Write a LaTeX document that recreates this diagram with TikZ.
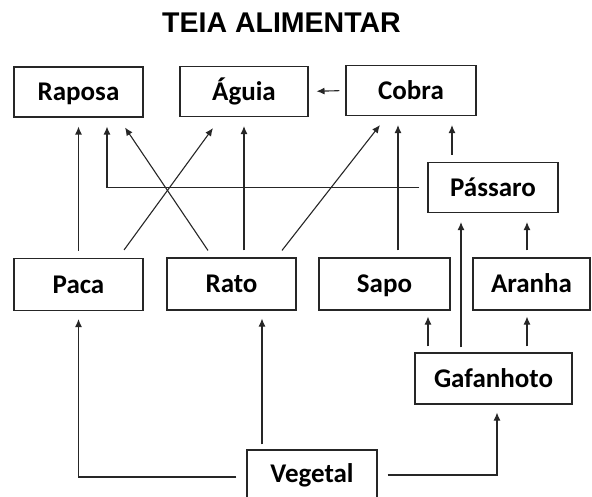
\documentclass[tikz,border=0pt]{standalone}
\usepackage{fontspec}
\setmainfont{Liberation Sans}
\newfontfamily\boxfont{Carlito}
\usetikzlibrary{arrows.meta}
\begin{document}
\begin{tikzpicture}[x=1pt,y=-1pt,
 box/.style={draw=black!85, line width=1.1pt, minimum height=50pt, inner sep=0pt,
   font=\boxfont\bfseries\fontsize{27}{30}\selectfont, text height=17.4pt, text depth=0pt},
 arr/.style={draw=black!85, line width=1.1pt, -{Latex[length=8pt,width=7pt]},
   shorten >=9pt, shorten <=7pt}]
\clip (0,0) rectangle (592,497);
\node[font=\bfseries\fontsize{28.5}{30}\selectfont, anchor=base] (title) at (281.5,33) {TEIA ALIMENTAR};

\node[box, minimum width=129pt] (rap) at (78.5,92) {Raposa};
\node[box, minimum width=128pt] (agu) at (244,91.5) {Águia};
\node[box, minimum width=130pt] (cob) at (411,90.5) {Cobra};
\node[box, minimum width=130pt] (pas) at (493,187.5) {Pássaro};
\node[box, minimum width=129pt, minimum height=52pt] (pac) at (78.5,284.5) {Paca};
\node[box, minimum width=129pt, minimum height=52pt] (rat) at (231.5,284) {Rato};
\node[box, minimum width=131pt, minimum height=52pt] (sap) at (384.5,284) {Sapo};
\node[box, minimum width=117pt, minimum height=52pt] (ara) at (531.5,284) {Aranha};
\node[box, minimum width=157pt, minimum height=51pt] (gaf) at (493.5,378.5) {Gafanhoto};
\node[box, minimum width=130pt, minimum height=56pt, text depth=9pt] (veg) at (312,478) {Vegetal};

\draw[arr] (pac.north) -- (rap.south);
\draw[arr, shorten <=8pt] (pas.west) -| ([xshift=28.5pt]rap.south);
\draw[arr, shorten <=8.4pt, shorten >=12pt] ([xshift=-18.8pt]rat.north) -- ([xshift=39.8pt]rap.south);
\draw[arr, shorten <=9.9pt, shorten >=13.6pt] ([xshift=39.7pt]pac.north) -- ([xshift=-23pt]agu.south);
\draw[arr] (agu.south |- rat.north) -- (agu.south);
\draw[arr, shorten <=8.9pt, shorten >=11.4pt] ([xshift=45pt]rat.north) -- ([xshift=-24pt]cob.south);
\draw[arr] ([xshift=13.5pt]sap.north) -- ([xshift=-13pt]cob.south);
\draw[arr] ([xshift=-41pt]pas.north) -- ([xshift=41pt]cob.south);
\draw[arr, shorten <=6pt, shorten >=8pt] (cob.west) -- (agu.east);
\draw[arr, shorten <=5pt] ([xshift=-32.5pt]gaf.north) -- ([xshift=-32pt]pas.south);
\draw[arr] ([xshift=-4.5pt]ara.north) -- ([xshift=34pt]pas.south);
\draw[arr, shorten <=6pt, shorten >=6pt] ([xshift=-65.5pt]gaf.north) -- ([xshift=43.5pt]sap.south);
\draw[arr, shorten <=6pt, shorten >=6pt] ([xshift=33.5pt]gaf.north) -- ([xshift=-4.5pt]ara.south);
\draw[arr, shorten <=10pt, shorten >=8pt] ([yshift=1pt]veg.west) -| (pac.south);
\draw[arr, shorten <=5pt, shorten >=8pt] ([xshift=-50pt]veg.north) -- ([xshift=30.5pt]rat.south);
\draw[arr, shorten <=10pt, shorten >=8pt] ([yshift=3pt]veg.east) -| ([xshift=3.5pt]gaf.south);
\end{tikzpicture}
\end{document}
